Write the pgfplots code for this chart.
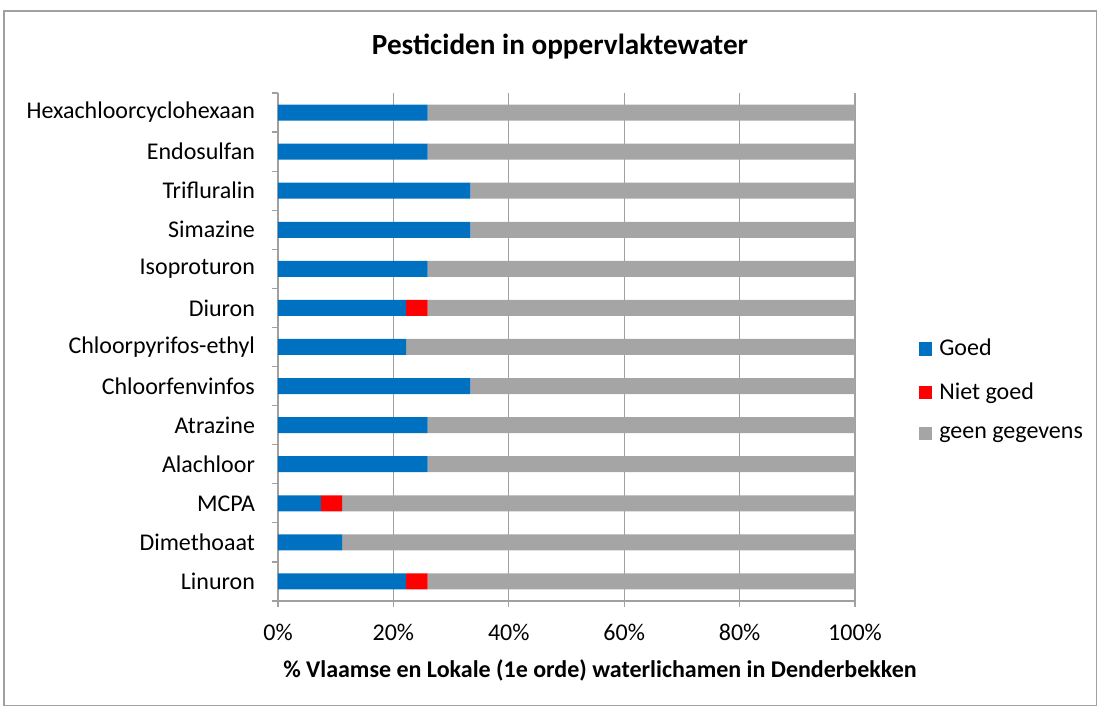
\documentclass[border=0pt]{standalone}
\usepackage{pgfplots}
\pgfplotsset{compat=1.18}
\usepackage{fontspec}
\setmainfont{Carlito}
\definecolor{cblue}{HTML}{0070C0}
\definecolor{cred}{HTML}{FF0000}
\definecolor{cgray}{HTML}{A5A5A5}
\definecolor{axgray}{HTML}{A0A0A0}
\pgfplotsset{sqlegend/.style={legend image code/.code={\fill[##1,draw=none] (0pt,-3.3pt) rectangle (6.6pt,3.3pt);}}}
\begin{document}
\begin{tikzpicture}
\useasboundingbox (-139pt,-52.5pt) rectangle (409.5pt,300.5pt);
\draw[axgray,line width=0.6pt] (-137pt,-52.2pt) rectangle (409.2pt,295pt);
\begin{axis}[
  at={(0pt,0pt)}, anchor=south west,
  scale only axis, width=288.5pt, height=254pt,
  xbar stacked, bar width=8pt,
  xmin=0, xmax=100, ymin=-0.5, ymax=12.5,
  xtick={0,20,...,100},
  xticklabel={\pgfmathprintnumber{\tick}\%},
  ytick={0,...,12},
  yticklabels={Linuron,Dimethoaat,MCPA,Alachloor,Atrazine,Chloorfenvinfos,Chloorpyrifos-ethyl,Diuron,Isoproturon,Simazine,Trifluralin,Endosulfan,Hexachloorcyclohexaan},
  minor ytick={-0.5,0.5,...,12.5},
  tick align=outside,
  major tick length=3pt,
  y tick style={draw=none},
  minor y tick style={draw=axgray, line width=0.6pt},
  minor tick length=3pt,
  x tick style={draw=axgray, line width=0.6pt},
  xmajorgrids, grid style={axgray, line width=0.6pt},
  axis x line*=bottom, axis y line*=left,
  axis line style={axgray, line width=0.6pt},
  every axis plot/.append style={draw=none, sqlegend},
  /pgf/number format/assume math mode=true,
  tick label style={font=\fontsize{12}{14}\selectfont, black},
  xticklabel style={yshift=-5pt},
  yticklabel style={xshift=-5pt},
  legend style={draw=none, fill=none, at={(1.1,0.415)}, anchor=west,
     font=\fontsize{12}{14}\selectfont, row sep=8pt, legend cell align=left,
     /tikz/every even column/.append style={column sep=2pt}},
  legend cell align=left,
  clip=false,
]
\addplot[fill=cblue] coordinates {(22.22,0) (11.11,1) (7.41,2) (25.93,3) (25.93,4) (33.33,5) (22.22,6) (22.22,7) (25.93,8) (33.33,9) (33.33,10) (25.93,11) (25.93,12)};
\addplot[fill=cred] coordinates {(3.70,0) (0,1) (3.70,2) (0,3) (0,4) (0,5) (0,6) (3.70,7) (0,8) (0,9) (0,10) (0,11) (0,12)};
\addplot[fill=cgray] coordinates {(74.08,0) (88.89,1) (88.89,2) (74.07,3) (74.07,4) (66.67,5) (77.78,6) (74.08,7) (74.07,8) (66.67,9) (66.67,10) (74.07,11) (74.07,12)};
\legend{\hspace{1.5pt}Goed,\hspace{1.5pt}Niet goed,\hspace{1.5pt}geen gegevens}
\end{axis}
\node[font=\fontsize{14.6}{17}\selectfont\bfseries] at (141pt,277pt) {Pesticiden in oppervlaktewater};
\node[font=\fontsize{12}{14}\selectfont\bfseries] at (161pt,-34.5pt) {\% Vlaamse en Lokale (1e orde) waterlichamen in Denderbekken};
\end{tikzpicture}
\end{document}
